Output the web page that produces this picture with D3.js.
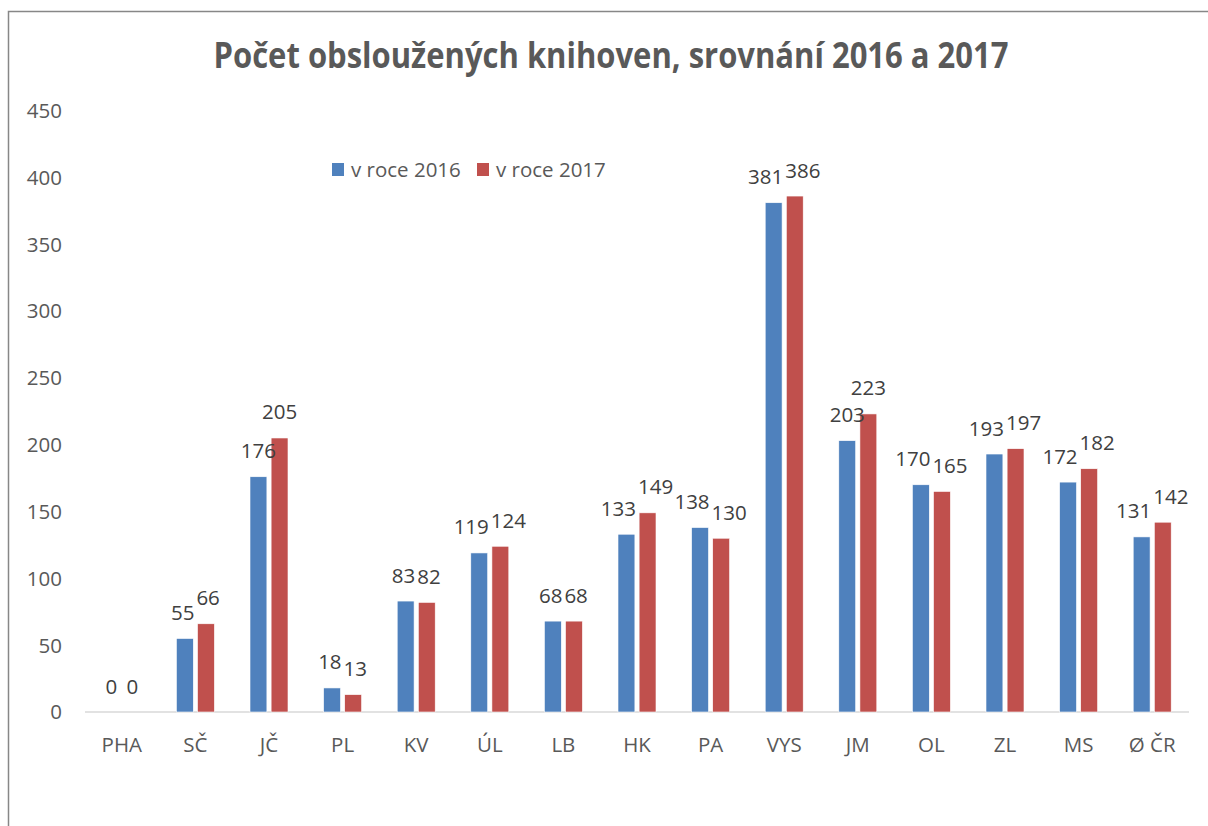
<!DOCTYPE html>
<html>
<head>
<meta charset="utf-8">
<script src="https://cdn.jsdelivr.net/npm/d3@7"></script>
<style>
  html, body { margin: 0; padding: 0; background: #fff; }
  svg { display: block; font-family: "Open Sans", sans-serif; }
</style>
</head>
<body>
<svg id="chart" width="1208" height="826"></svg>
<script>
const categories = ["PHA", "SČ", "JČ", "PL", "KV", "ÚL", "LB", "HK", "PA", "VYS", "JM", "OL", "ZL", "MS", "Ø ČR"];
const seriesNames = ["v roce 2016", "v roce 2017"];
const values2016 = [0, 55, 176, 18, 83, 119, 68, 133, 138, 381, 203, 170, 193, 172, 131];
const values2017 = [0, 66, 205, 13, 82, 124, 68, 149, 130, 386, 223, 165, 197, 182, 142];
const yTicks = [0, 50, 100, 150, 200, 250, 300, 350, 400, 450];
const colors = ["#4F81BD", "#C0504D"];
const title = "Počet obsloužených knihoven, srovnání 2016 a 2017";

const svg = d3.select("#chart");

// outer border (chart area frame, clipped by the window at right/bottom)
svg.append("rect")
  .attr("x", 8.5).attr("y", 11.5)
  .attr("width", 1240).attr("height", 840)
  .attr("fill", "none").attr("stroke", "#878787").attr("stroke-width", 1.5);

const x = d3.scaleBand().domain(categories).range([85, 1189]);
const xi = d3.scaleBand().domain([0, 1]).range([-19, 19]).paddingInner(0.2);
const y = d3.scaleLinear().domain([0, 450]).range([712, 110.5]);

// title
svg.append("text")
  .attr("x", 611).attr("y", 68)
  .attr("text-anchor", "middle")
  .attr("font-weight", "bold")
  .attr("font-size", 35)
  .attr("fill", "#595959")
  .attr("textLength", 795).attr("lengthAdjust", "spacingAndGlyphs")
  .text(title);

// y axis tick labels
svg.append("g").selectAll("text").data(yTicks).join("text")
  .attr("x", 62).attr("y", d => y(d))
  .attr("dy", "0.36em")
  .attr("text-anchor", "end")
  .attr("font-size", 20.5)
  .attr("fill", "#595959")
  .text(d => d);

// baseline
svg.append("line")
  .attr("x1", 85).attr("x2", 1189)
  .attr("y1", y(0)).attr("y2", y(0))
  .attr("stroke", "#d9d9d9").attr("stroke-width", 1.5);

const data = categories.map((c, i) => ({ c, v: [values2016[i], values2017[i]] }));

const groups = svg.append("g").selectAll("g").data(data).join("g")
  .attr("transform", d => `translate(${x(d.c) + x.bandwidth() / 2},0)`);

groups.selectAll("rect").data(d => d.v.map((v, s) => ({ v, s }))).join("rect")
  .attr("x", d => xi(d.s))
  .attr("width", xi.bandwidth())
  .attr("y", d => y(d.v))
  .attr("height", d => y(0) - y(d.v))
  .attr("fill", d => colors[d.s])
  .attr("stroke", "#fff").attr("stroke-width", 0.6);

// data labels, nudged apart when the pair would collide
groups.each(function (d) {
  const g = d3.select(this);
  const labels = d.v.map((v, s) => g.append("text")
    .attr("class", "lbl")
    .attr("x", xi(s) + xi.bandwidth() / 2)
    .attr("y", y(v) - 18.5)
    .attr("text-anchor", "middle")
    .attr("font-size", 20.5)
    .attr("fill", "#404040")
    .text(v));
  const w = labels.map(l => l.node().getComputedTextLength());
  const xa = xi(0) + xi.bandwidth() / 2, xb = xi(1) + xi.bandwidth() / 2;
  const dy = Math.abs(y(d.v[0]) - y(d.v[1]));
  const need = w[0] / 2 + w[1] / 2 + 2 - (xb - xa);
  if (dy < 23 && need > 0) {
    labels[0].attr("x", xa - need / 2);
    labels[1].attr("x", xb + need / 2);
  }
});

// category labels
svg.append("g").selectAll("text").data(categories).join("text")
  .attr("x", d => x(d) + x.bandwidth() / 2)
  .attr("y", 752)
  .attr("text-anchor", "middle")
  .attr("font-size", 20.5)
  .attr("fill", "#595959")
  .text(d => d);

// legend
const legendX = [332, 477];
const lg = svg.append("g").selectAll("g").data(seriesNames).join("g")
  .attr("transform", (d, i) => `translate(${legendX[i]},0)`);
lg.append("rect").attr("x", 0).attr("y", 163).attr("width", 12).attr("height", 13)
  .attr("fill", (d, i) => colors[i]);
lg.append("text").attr("x", 19).attr("y", 177)
  .attr("font-size", 20.5).attr("fill", "#595959")
  .text(d => d);
</script>
</body>
</html>
